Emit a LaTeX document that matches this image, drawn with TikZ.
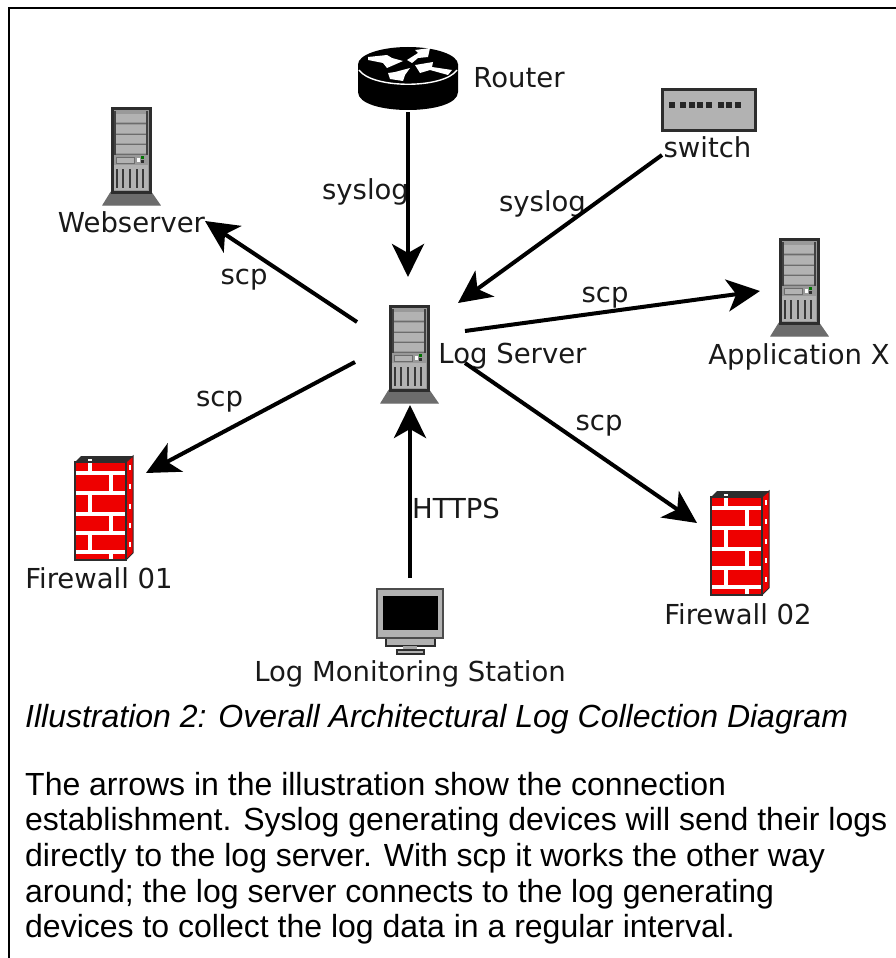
\documentclass[tikz,border=0pt]{standalone}
\usepackage{fontspec}
\setmainfont{Liberation Sans}
\newfontfamily\labelfont{DejaVu Sans}
\usetikzlibrary{arrows.meta,calc}
\definecolor{brick}{RGB}{238,0,0}
\definecolor{bay}{RGB}{178,178,178}
\definecolor{dk}{RGB}{45,45,45}
\tikzset{
  x=1pt,y=-1pt,
  lbl/.style={font=\labelfont\fontsize{27.5}{30}\selectfont,inner sep=0pt,anchor=base,text=black!90},
  para/.style={font=\fontsize{32}{35.7}\selectfont,inner sep=0pt,anchor=base west},
  iconbox/.style={inner sep=0pt,outer sep=0pt,draw=none,rectangle},
  conn/.style={line width=4pt,-{Stealth[length=33pt,width=32pt,inset=9pt]}},
  pics/srv/.style={code={
    \fill[gray!85!black,draw=dk!70,line width=1pt] (-20,85)--(20,85)--(29,98)--(-28,98)--cycle;
    \fill[gray!80] (-18,0) rectangle (18,85);
    \draw[dk,line width=3pt] (-19,1) rectangle (19,85);
    \draw[gray!50!black,line width=1.5pt] (-15.8,4) -- (-15.8,48) (15.8,4)--(15.8,48);
    \foreach \a in {7,18,28,38}{
      \fill[bay] (-15,\a) rectangle (15,\a+8);
      \draw[dk!70,line width=1.6pt] (-15,\a+9.5) -- (15,\a+9.5);
    }
    \fill[bay,draw=dk!70,line width=1pt] (-15,50) rectangle (3,56);
    \fill[white] (6,51) rectangle (9,55);
    \fill[green!45!black] (10,49) rectangle (13,52);
    \fill[dk] (10,53) rectangle (13,56);
    \fill[bay] (-17,58) rectangle (17,83);
    \foreach \a in {-14,-8,-1,6,12}{\draw[gray!45!black,line width=2pt] (\a,62) -- (\a,81);}
  }},
  pics/wall/.style={code={
    \fill[dk] (0,0)--(6,-6)--(58,-6)--(51,0)--cycle;
    \fill[brick,draw=dk,line width=1pt] (51,0)--(58,-6)--(58,91)--(51,98)--cycle;
    \fill[brick] (0,0) rectangle (51,98);
    \draw[white!100,line width=3.2pt]
      (0,11)--(51,11) (0,31)--(51,31) (0,52)--(51,52) (0,71)--(51,71) (0,90)--(51,90)
      (15,-3)--(15,11) (36,11)--(36,31) (15,31)--(15,52) (36,52)--(36,71) (15,71)--(15,90) (36,90)--(36,98);
    \draw[white,line width=2.4pt] (55,3)--(55,8) (55,22)--(55,27) (55,42)--(55,47) (55,61)--(55,66) (55,80)--(55,85);
    \draw[dk,line width=1.6pt] (0,0) rectangle (51,98);
  }}
}
\begin{document}
\begin{tikzpicture}
\useasboundingbox (0,0) rectangle (896,958);
% page frame
\draw[line width=2pt] (9,958) -- (9,8) -- (896,8);

% icon boxes
\node[iconbox,minimum width=100pt,minimum height=63pt] (router) at (408,78.5) {};
\node[iconbox,minimum width=96pt,minimum height=43pt] (switch) at (709,109.5) {};
\node[iconbox,minimum width=57pt,minimum height=98pt] (web) at (131.5,156) {};
\node[iconbox,minimum width=57pt,minimum height=98pt] (appx) at (799.5,287) {};
\node[iconbox,minimum width=108pt,minimum height=103pt] (log) at (411,328.5) {};
\node[iconbox,minimum width=58pt,minimum height=104pt] (fw1) at (104,508) {};
\node[iconbox,minimum width=58pt,minimum height=104pt] (fw2) at (740,543) {};
\node[iconbox,minimum width=67pt,minimum height=66pt] (mon) at (410,621) {};

% router
\fill[black] (358,64.5) -- (358,92) .. controls (358,116) and (458,116) .. (458,92) -- (458,64.5) -- cycle;
\fill[black] (408,64.5) ellipse[x radius=50,y radius=17.5];
\draw[white,line width=1.4pt] (359,70) .. controls (372,89) and (444,89) .. (457,70);
\fill[white] (368,57)--(387,55)--(392,58)--(403,61)--(387,68)--(383,63)--(368,60)--cycle;
\fill[white] (407,60)--(418,53)--(415,50)--(430,48)--(428,57)--(418,58)--(412,63)--cycle;
\fill[white] (388,73)--(395,72)--(410,68)--(405,75)--(403,81)--(390,79)--cycle;
\fill[white] (415,65)--(433,62)--(432,67)--(452,70)--(448,75)--(430,70)--(420,73)--cycle;

% switch
\fill[bay,draw=dk,line width=3pt] (662.5,89.5) rectangle (755.5,130);
\foreach \a in {672,683,692,700,709,721,729,738}{\fill[black!85] (\a-3,102) rectangle (\a+3,108);}

% servers
\pic at (131,107) {srv};
\pic at (409,305) {srv};
\pic at (799,238) {srv};

% firewalls
\pic at (75,462) {wall};
\pic at (711,497) {wall};

% monitor
\fill[gray!60,draw=dk,line width=1.4pt] (386,638) rectangle (435,646);
\fill[gray!70] (403,646) rectangle (417,650);
\fill[gray!60,draw=dk,line width=1.4pt] (397,650) rectangle (424,654);
\fill[gray!60,draw=dk!85,line width=2pt] (377,589) rectangle (443,638);
\fill[black] (383,596) rectangle (438,630);

% labels
\node[lbl] (lrouter) at (519,88) {Router};
\node[lbl] (lswitch) at (707.5,157) {switch};
\node[lbl] (lweb) at (131.5,232) {Webserver};
\node[lbl] (llog) at (512.5,363) {Log Server};
\node[lbl] (lappx) at (799,364) {Application X};
\node[lbl] (lfw1) at (99,588) {Firewall 01};
\node[lbl] (lfw2) at (738,624) {Firewall 02};
\node[lbl] (lmon) at (410,681) {Log Monitoring Station};
\node[lbl] (ls1) at (365.5,199) {syslog};
\node[lbl] (ls2) at (542.5,211) {syslog};
\node[lbl] (lsc1) at (244,284) {scp};
\node[lbl] (lsc2) at (605,302) {scp};
\node[lbl] (lsc3) at (219.5,406) {scp};
\node[lbl] (lsc4) at (599,430) {scp};
\node[lbl] (lhttps) at (456,518) {HTTPS};

% connector ends that lie off the node borders
\coordinate (swout) at (662,155);
\coordinate (logne) at (458,303);
\coordinate (fw1in) at (146,473);
\coordinate (fw2in) at (697,523);
\coordinate (appin) at (760,291);
\coordinate (webin) at (205,221);
\coordinate (logw) at (357,322);
\coordinate (logsw) at (355,362);
\coordinate (loge) at (465,331);
\coordinate (logse) at (465,363);
\coordinate (logn) at (408,277);
\coordinate (logs) at (410,405);
\coordinate (monout) at (410,578);
\coordinate (routout) at (408,112);

% connectors
\draw[conn] (routout) -- (logn);
\draw[conn] (swout) -- (logne);
\draw[conn] (logw) -- (webin);
\draw[conn] (logsw) -- (fw1in);
\draw[conn] (loge) -- (appin);
\draw[conn] (logse) -- (fw2in);
\draw[conn] (monout) -- (logs);

% text
\node[para,font=\itshape\fontsize{32}{35.7}\selectfont] (cap) at (25,727) {Illustration 2: Overall Architectural Log Collection Diagram};
\node[para] (p1) at (25,795) {The arrows in the illustration show the connection};
\node[para] (p2) at (25,830.7) {establishment. Syslog generating devices will send their logs};
\node[para] (p3) at (25,866.4) {directly to the log server. With scp it works the other way};
\node[para] (p4) at (25,902) {around; the log server connects to the log generating};
\node[para] (p5) at (25,937.8) {devices to collect the log data in a regular interval.};
\end{tikzpicture}
\end{document}
